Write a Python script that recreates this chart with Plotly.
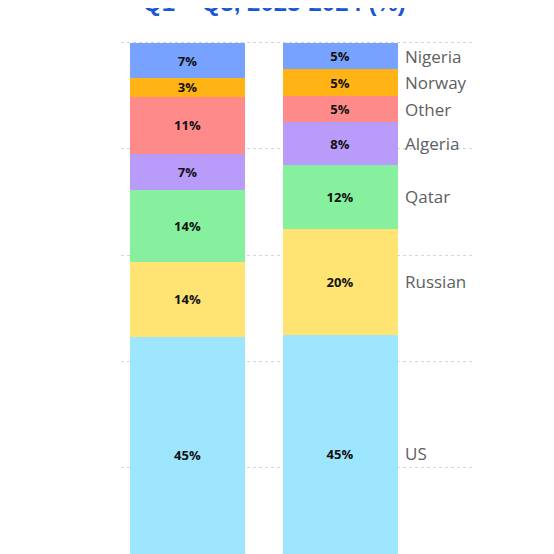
import numpy as np
import plotly.graph_objects as go

# ==========================
# DATA
# ==========================

periods = ["Q1-Q3 2023", "Q1-Q3 2024"]

# stacked bottom -> top
sources = ["US", "Russian", "Qatar", "Algeria", "Other", "Norway", "Nigeria"]

share_2023 = [44.6, 14.1, 13.6, 6.7, 10.9, 3.4, 6.7]
share_2024 = [45, 20, 12, 8, 5, 5, 5]

colors = ["#9EE6FD", "#FFE474", "#86F09E", "#B99BFA", "#FF8A8A", "#FFB314", "#78A2FF"]

title_text = "Q1 – Q3, 2023-2024 (%)"

# ==========================
# FIGURE
# ==========================

fig = go.Figure()

for i, name in enumerate(sources):

    vals = [share_2023[i], share_2024[i]]

    fig.add_trace(
        go.Bar(
            x=periods,
            y=vals,
            name=name,
            marker=dict(color=colors[i], line=dict(width=0)),
            text=[f"{v:.0f}%" for v in vals],
            textposition="inside",
            insidetextanchor="middle",
            textangle=0,
            textfont=dict(family="Open Sans", size=13, color="#111111", weight="bold"),
            width=0.754,
            hoverinfo="skip"
        )
    )

# labels next to the 2024 bar, centred on each segment
tops = np.cumsum(share_2024)
mids = tops - np.array(share_2024) / 2

for name, y in zip(sources, mids):

    fig.add_annotation(
        x=periods[1],
        y=y,
        xref="x",
        yref="y",
        text=name,
        showarrow=False,
        xanchor="left",
        yanchor="middle",
        xshift=63,
        font=dict(family="Open Sans", size=17, color="#606060")
    )

# title, mostly cropped off the top
fig.add_annotation(
    x=0.435,
    y=1,
    xref="paper",
    yref="paper",
    text="<b>" + title_text + "</b>",
    showarrow=False,
    xanchor="center",
    yanchor="bottom",
    yshift=17,
    font=dict(family="Liberation Sans", size=24, color="#1A56D6")
)

# page body adds 8px, margins compensate
fig.update_layout(
    width=554,
    height=554,
    barmode="stack",
    showlegend=False,
    plot_bgcolor="white",
    paper_bgcolor="white",
    margin=dict(l=113, r=89, t=27, b=8),
    uniformtext=dict(minsize=13, mode="show")
)

fig.update_xaxes(
    range=[-0.436, 1.872],
    showticklabels=False,
    showgrid=False,
    zeroline=False,
    showline=False
)

fig.update_yaxes(
    range=[3.6, 101.5],
    dtick=20,
    showticklabels=False,
    showgrid=True,
    gridcolor="#D6D6D6",
    griddash="dot",
    gridwidth=1,
    zeroline=False,
    showline=False
)

fig.write_html("out.html")
